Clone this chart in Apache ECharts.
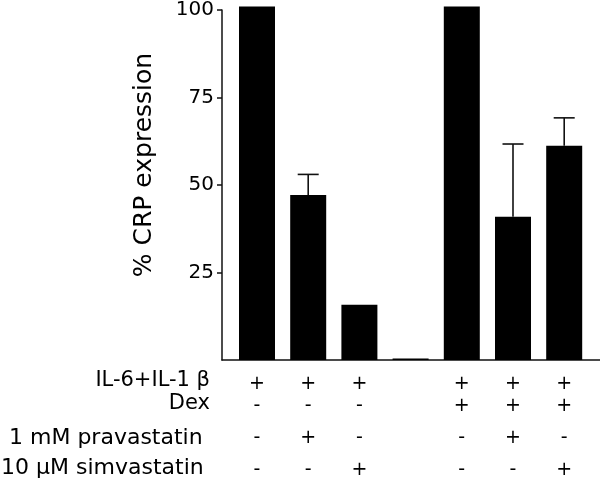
<!DOCTYPE html>
<html>
<head>
<meta charset="utf-8">
<script src="https://cdn.jsdelivr.net/npm/echarts@6/dist/echarts.min.js"></script>
<style>
html, body { margin: 0; padding: 0; background: #fff; }
#chart { width: 600px; height: 481px; }
</style>
</head>
<body>
<div id="chart"></div>
<script>
// ---- data ----
const categories = ['A', 'B', 'C', 'D', 'E', 'F', 'G'];
const crpValues = [100, 46.7, 15.6, 0.4, 100, 40.5, 60.6];
const crpErrors = [0, 5.8, 0, 0, 0, 20.6, 7.9];
const yTicks = [25, 50, 75, 100];
const yAxisTitle = '% CRP expression';
const rowTitles = ['IL-6+IL-1 β', 'Dex', '1 mM pravastatin', '10 μM simvastatin'];
const rowIL = ['+', '+', '+', '', '+', '+', '+'];
const rowDex = ['-', '-', '-', '', '+', '+', '+'];
const rowPrava = ['-', '+', '-', '', '-', '+', '-'];
const rowSimva = ['-', '-', '+', '', '-', '-', '+'];

// ---- chart ----
const FONT = 'DejaVu Sans';
const rows = [rowIL, rowDex, rowPrava, rowSimva];
const rowOffsets = [24.5, 46.5, 78.5, 110];
const rowTitleX = [210, 210, 9, 1];
const rowTitleAlign = ['right', 'right', 'left', 'left'];
const rowTitleY = [381, 404, 438, 468.5];
const rowTitleSize = [21, 21, 22, 22];

const chart = echarts.init(document.getElementById('chart'), null, { renderer: 'canvas' });

const xAxes = [{
  type: 'category', gridIndex: 0, data: categories,
  axisLine: { show: false }, axisTick: { show: false }, axisLabel: { show: false }
}];
rows.forEach(function (row, r) {
  xAxes.push({
    type: 'category', gridIndex: 0, data: categories, position: 'bottom',
    offset: rowOffsets[r],
    axisLine: { show: false }, axisTick: { show: false }, splitLine: { show: false },
    axisLabel: {
      interval: 0, margin: 0, verticalAlign: 'middle',
      fontFamily: FONT, fontSize: 19, color: '#000',
      formatter: function (v, i) { return row[i]; }
    }
  });
});
xAxes.push({
  type: 'value', gridIndex: 1, min: 0, max: 1,
  axisLine: { show: true, lineStyle: { color: '#111', width: 1.5 } },
  axisTick: { show: false }, axisLabel: { show: false }, splitLine: { show: false }
});

const option = {
  backgroundColor: '#fff',
  animation: false,
  grid: [
    { left: 231.4, right: 10.2, top: 6.5, bottom: 121 },
    { left: 222, right: 0, top: 6.5, bottom: 121 }
  ],
  xAxis: xAxes,
  yAxis: [
    { type: 'value', gridIndex: 0, min: 0, max: 100, show: false },
    {
      type: 'value', gridIndex: 1, min: 0, max: 100, interval: 25,
      axisLine: { show: true, lineStyle: { color: '#111', width: 1.5 } },
      axisTick: { show: true, length: 5, customValues: yTicks, lineStyle: { color: '#111', width: 1.5 } },
      axisLabel: { customValues: yTicks, margin: 8, fontFamily: FONT, fontSize: 20, color: '#000' },
      splitLine: { show: false }
    }
  ],
  graphic: [
    {
      type: 'text', x: 144, y: 165, rotation: Math.PI / 2,
      style: { text: yAxisTitle, font: '25px "DejaVu Sans"', fill: '#000', align: 'center', verticalAlign: 'middle' }
    }
  ].concat(rowTitles.map(function (t, r) {
    return {
      type: 'text', x: rowTitleX[r], y: rowTitleY[r],
      style: { text: t, font: rowTitleSize[r] + 'px "DejaVu Sans"', fill: '#000', align: rowTitleAlign[r], verticalAlign: 'middle' }
    };
  })),
  series: [
    {
      type: 'bar', xAxisIndex: 0, yAxisIndex: 0, data: crpValues,
      barWidth: 36, itemStyle: { color: '#000' }
    },
    {
      type: 'custom', xAxisIndex: 0, yAxisIndex: 0, z: 5,
      data: categories.map(function (c, i) { return [i, crpValues[i], crpErrors[i]]; }),
      renderItem: function (params, api) {
        const e = api.value(2);
        if (!e) return null;
        const i = api.value(0);
        const v = api.value(1);
        const base = api.coord([i, v]);
        const top = api.coord([i, v + e]);
        const half = 10.5;
        const st = { stroke: '#111', lineWidth: 1.6 };
        return {
          type: 'group',
          children: [
            { type: 'line', shape: { x1: base[0], y1: base[1], x2: top[0], y2: top[1] }, style: st },
            { type: 'line', shape: { x1: top[0] - half, y1: top[1], x2: top[0] + half, y2: top[1] }, style: st }
          ]
        };
      }
    }
  ]
};
chart.setOption(option);
</script>
</body>
</html>
